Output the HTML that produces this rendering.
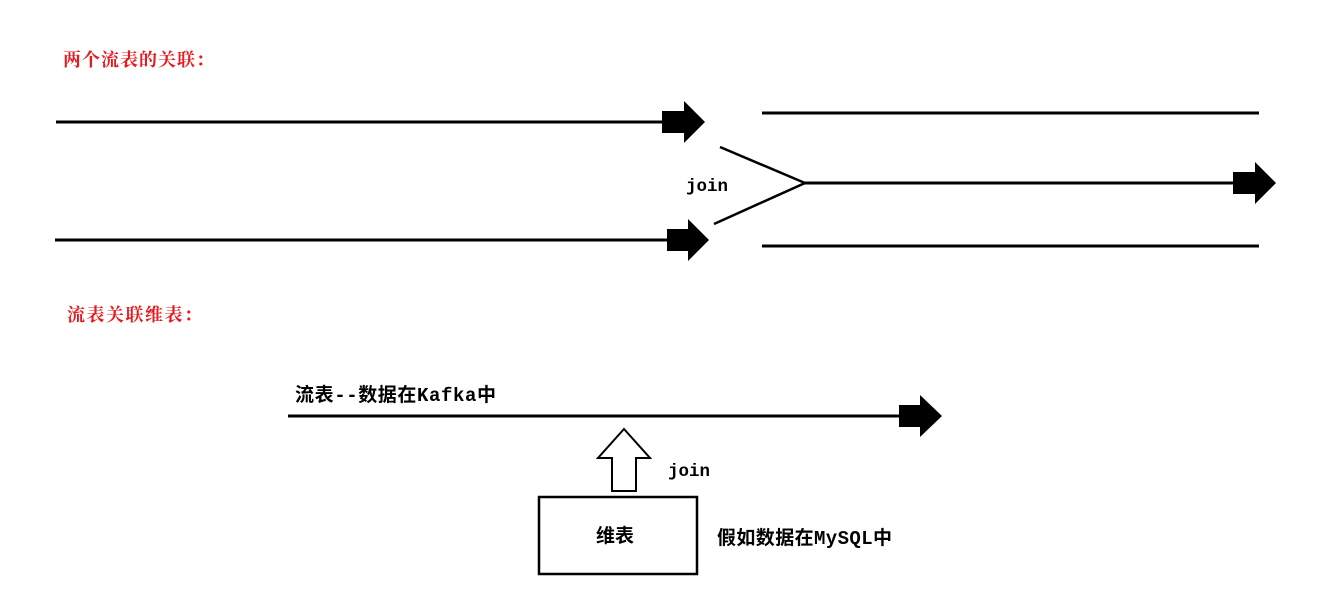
<!DOCTYPE html>
<html><head><meta charset="utf-8"><style>
body{margin:0;background:#fff;}
svg{display:block}
text{font-family:"Liberation Mono","Noto Sans CJK SC",monospace;}
</style></head><body>
<svg width="1319" height="597" viewBox="0 0 1319 597" xmlns="http://www.w3.org/2000/svg">
<text x="63" y="66" font-size="18" letter-spacing="1" font-weight="bold" fill="#e8191e" style="font-family:'Noto Serif CJK SC','Noto Sans CJK SC',serif">两个流表的关联：</text>
<text x="67" y="321" font-size="18" letter-spacing="1.5" font-weight="bold" fill="#e8191e" style="font-family:'Noto Serif CJK SC','Noto Sans CJK SC',serif">流表关联维表：</text>
<g stroke="#000" stroke-width="3" fill="none">
<line x1="56" y1="122" x2="664" y2="122"/>
<line x1="55" y1="240" x2="669" y2="240"/>
<line x1="762" y1="113" x2="1259" y2="113"/>
<line x1="805" y1="183" x2="1235" y2="183"/>
<line x1="762" y1="246" x2="1259" y2="246"/>
<line x1="288" y1="416" x2="901" y2="416"/>
<polyline points="720,147 805,183 714,224" stroke-width="2.5"/>
</g>
<g fill="#000">
<polygon points="662,111 684,111 684,101 705,122 684,143 684,133 662,133"/>
<polygon points="667,229 688,229 688,219 709,240 688,261 688,251 667,251"/>
<polygon points="1233,172 1255,172 1255,162 1276,183 1255,204 1255,194 1233,194"/>
<polygon points="899,405 920,405 920,395 942,416 920,437 920,427 899,427"/>
</g>
<polygon points="624,429 650,458 636,458 636,491 612,491 612,458 598,458" fill="#fff" stroke="#000" stroke-width="2"/>
<rect x="539" y="497" width="158" height="77" fill="#fff" stroke="#000" stroke-width="2.5"/>
<text x="686" y="191" font-size="17.5" font-weight="bold">join</text>
<text x="668" y="476" font-size="17.5" font-weight="bold">join</text>
<text x="295" y="401" font-size="19" letter-spacing="0.6" font-weight="bold">流表--数据在Kafka中</text>
<text x="596" y="542" font-size="19" font-weight="bold">维表</text>
<text x="717" y="544" font-size="19" letter-spacing="0.4" font-weight="bold">假如数据在MySQL中</text>
</svg>
</body></html>
